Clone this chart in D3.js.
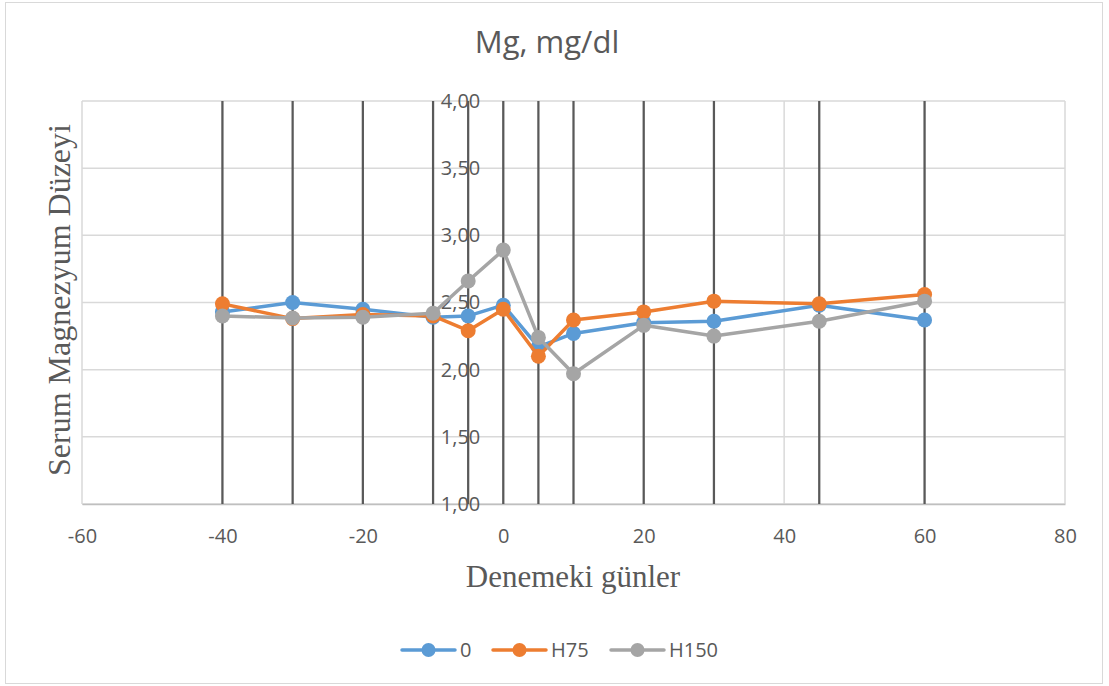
<!DOCTYPE html>
<html lang="tr">
<head>
<meta charset="UTF-8">
<title>Mg, mg/dl</title>
<style>
    body { margin: 0; background: #fff; }
    svg { display: block; }
    .tick text { font-family: "Open Sans", sans-serif; font-size: 20px; fill: #595959; }
</style>
</head>
<body>
<script src="https://cdn.jsdelivr.net/npm/d3@7"></script>
<script>
    // deney günleri
    const gunler = [-40, -30, -20, -10, -5, 0, 5, 10, 20, 30, 45, 60];
    // seriler
    const seri0    = [2.43, 2.50, 2.45, 2.39, 2.40, 2.48, 2.17, 2.27, 2.35, 2.36, 2.48, 2.37];
    const seriH75  = [2.49, 2.38, 2.41, 2.40, 2.29, 2.45, 2.10, 2.37, 2.43, 2.51, 2.49, 2.56];
    const seriH150 = [2.40, 2.385, 2.39, 2.42, 2.66, 2.89, 2.24, 1.97, 2.33, 2.25, 2.36, 2.51];
    const seriAdlari = ["0", "H75", "H150"];
    const xTicks = [-60, -40, -20, 0, 20, 40, 60, 80];
    const yTicks = [1, 1.5, 2, 2.5, 3, 3.5, 4];

    const W = 1109, H = 686;
    const renkler = ["#5b9bd5", "#ed7d31", "#a5a5a5"];

    const svg = d3.select("body").append("svg")
        .attr("width", W)
        .attr("height", H);

    // dış çerçeve
    svg.append("rect")
        .attr("x", 5.5).attr("y", 2.5)
        .attr("width", 1097).attr("height", 681)
        .attr("fill", "#fff")
        .attr("stroke", "#d9d9d9");

    const x = d3.scaleLinear().domain([-60, 80]).range([82, 1065]);
    const y = d3.scaleLinear().domain([1, 4]).range([504, 101]);

    // ızgara çizgileri
    svg.append("g").selectAll("line")
        .data(yTicks)
        .join("line")
        .attr("x1", x(-60)).attr("x2", x(80))
        .attr("y1", d => y(d)).attr("y2", d => y(d))
        .attr("stroke", "#d9d9d9").attr("stroke-width", 1.5);

    svg.append("g").selectAll("line")
        .data(xTicks)
        .join("line")
        .attr("x1", d => x(d)).attr("x2", d => x(d))
        .attr("y1", y(1)).attr("y2", y(4))
        .attr("stroke", "#d9d9d9").attr("stroke-width", 1.5);

    // x ekseni (tire işaretli etiketler)
    svg.append("g")
        .attr("transform", `translate(0, ${y(1)})`)
        .call(d3.axisBottom(x).tickValues(xTicks).tickSize(0).tickPadding(25).tickFormat(d => String(d)))
        .call(g => g.select(".domain").attr("stroke", "#bfbfbf").attr("stroke-width", 1.5));

    // koyu dikey çizgiler (her gün için)
    svg.append("g").selectAll("line")
        .data(gunler)
        .join("line")
        .attr("x1", d => x(d)).attr("x2", d => x(d))
        .attr("y1", y(1)).attr("y2", y(4))
        .attr("stroke", "#595959").attr("stroke-width", 2.25);

    // y ekseni x=0 noktasında
    const virgul = d => d3.format(".2f")(d).replace(".", ",");
    svg.append("g")
        .attr("transform", `translate(${x(0)}, 0)`)
        .call(d3.axisLeft(y).tickValues(yTicks).tickSize(0).tickPadding(23).tickFormat(virgul))
        .call(g => g.select(".domain").remove());

    // seriler
    const seriler = [seri0, seriH75, seriH150].map((vals, i) => ({
        ad: seriAdlari[i],
        renk: renkler[i],
        noktalar: gunler.map((g, j) => ({ gun: g, deger: vals[j] }))
    }));

    const cizgi = d3.line()
        .x(d => x(d.gun))
        .y(d => y(d.deger));

    seriler.forEach(s => {
        const g = svg.append("g");
        g.append("path")
            .datum(s.noktalar)
            .attr("d", cizgi)
            .attr("fill", "none")
            .attr("stroke", s.renk)
            .attr("stroke-width", 3.5)
            .attr("stroke-linejoin", "round");
        g.selectAll("circle")
            .data(s.noktalar)
            .join("circle")
            .attr("cx", d => x(d.gun))
            .attr("cy", d => y(d.deger))
            .attr("r", 7.5)
            .attr("fill", s.renk);
    });

    // başlık
    svg.append("text")
        .attr("x", 547).attr("y", 53)
        .attr("text-anchor", "middle")
        .style("font-family", "'Open Sans', sans-serif")
        .style("font-size", "31px")
        .attr("fill", "#595959")
        .text("Mg, mg/dl");

    // eksen başlıkları
    svg.append("text")
        .attr("x", 573).attr("y", 587)
        .attr("text-anchor", "middle")
        .style("font-family", "'Liberation Serif', serif")
        .style("font-size", "31px")
        .attr("fill", "#595959")
        .text("Denemeki günler");

    svg.append("text")
        .attr("transform", "translate(70, 300) rotate(-90)")
        .attr("text-anchor", "middle")
        .style("font-family", "'Liberation Serif', serif")
        .style("font-size", "32px")
        .attr("fill", "#595959")
        .text("Serum Magnezyum Düzeyi");

    // lejant
    const lejantX = [402, 493, 611];
    const lejant = svg.append("g");
    seriler.forEach((s, i) => {
        const lx = lejantX[i];
        lejant.append("line")
            .attr("x1", lx).attr("x2", lx + 53)
            .attr("y1", 650).attr("y2", 650)
            .attr("stroke", s.renk).attr("stroke-width", 3.5)
            .attr("stroke-linecap", "round");
        lejant.append("circle")
            .attr("cx", lx + 26.5).attr("cy", 650).attr("r", 7)
            .attr("fill", s.renk);
        lejant.append("text")
            .attr("x", lx + 58).attr("y", 657)
            .style("font-family", "'Open Sans', sans-serif")
            .style("font-size", "20px")
            .attr("fill", "#595959")
            .text(s.ad);
    });
</script>
</body>
</html>
